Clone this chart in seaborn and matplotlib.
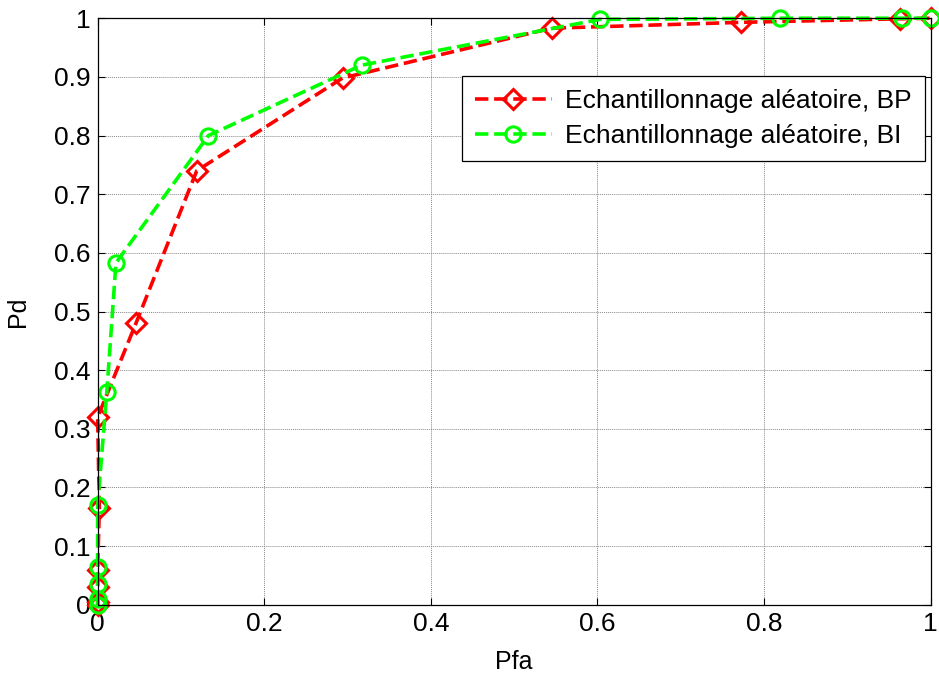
import matplotlib
matplotlib.use("Agg")
import matplotlib.pyplot as plt
import numpy as np
import pandas as pd
import seaborn as sns

# ROC points
PFA_BP = [0.0, 0.0, 0.0, 0.0, 0.002, 0.0, 0.046, 0.119, 0.294, 0.545, 0.773, 0.963, 1.0]
PD_BP = [0.0, 0.005, 0.03, 0.06, 0.165, 0.32, 0.48, 0.74, 0.898, 0.983, 0.993, 0.999, 1.0]
PFA_BI = [0.0, 0.0, 0.0, 0.0, 0.0, 0.011, 0.022, 0.133, 0.317, 0.603, 0.819, 0.966, 1.0]
PD_BI = [0.0, 0.01, 0.035, 0.065, 0.17, 0.363, 0.583, 0.80, 0.92, 0.998, 1.0, 1.0, 1.0]

LABEL_BP = "Echantillonnage aléatoire, BP"
LABEL_BI = "Echantillonnage aléatoire, BI"
X_TICKS = [0, 0.2, 0.4, 0.6, 0.8, 1]
X_TICK_LABELS = ["0", "0.2", "0.4", "0.6", "0.8", "1"]
Y_TICKS = [0, 0.1, 0.2, 0.3, 0.4, 0.5, 0.6, 0.7, 0.8, 0.9, 1]
Y_TICK_LABELS = ["0", "0.1", "0.2", "0.3", "0.4", "0.5", "0.6", "0.7", "0.8", "0.9", "1"]

FS = 19


def main() -> None:
    sns.set_theme(style="white")
    plt.rcParams["font.family"] = ["Liberation Sans", "DejaVu Sans"]
    plt.rcParams["axes.labelcolor"] = "black"
    plt.rcParams["text.color"] = "black"

    bp = pd.DataFrame({"Pfa": PFA_BP, "Pd": PD_BP})
    bi = pd.DataFrame({"Pfa": PFA_BI, "Pd": PD_BI})

    fig = plt.figure(figsize=(9.39, 6.75), dpi=100)
    ax = fig.add_axes([0.104, 0.104, 0.887, 0.869])

    sns.lineplot(
        data=bp, x="Pfa", y="Pd", sort=False, estimator=None, ax=ax,
        color="#ff0000", linestyle="--", linewidth=2.6, marker="D",
        markersize=10, markerfacecolor="none", markeredgecolor="#ff0000",
        markeredgewidth=2.2, label=LABEL_BP, clip_on=False,
    )
    sns.lineplot(
        data=bi, x="Pfa", y="Pd", sort=False, estimator=None, ax=ax,
        color="#00ff00", linestyle="--", linewidth=2.6, marker="o",
        markersize=11, markerfacecolor="none", markeredgecolor="#00ff00",
        markeredgewidth=2.2, label=LABEL_BI, clip_on=False,
    )

    ax.set_xlim(0, 1)
    ax.set_ylim(0, 1)
    ax.set_xticks(X_TICKS)
    ax.set_xticklabels(X_TICK_LABELS)
    ax.set_yticks(Y_TICKS)
    ax.set_yticklabels(Y_TICK_LABELS)
    ax.tick_params(direction="in", length=5, width=0.8, labelsize=FS, colors="black",
                   top=True, right=True, bottom=True, left=True, pad=5)
    ax.grid(True, color="#8a8a8a", linestyle=(0, (1, 1)), linewidth=0.7)
    for spine in ax.spines.values():
        spine.set_color("black")
        spine.set_linewidth(0.9)
    ax.set_xlabel("Pfa", fontsize=FS - 1, labelpad=10, color="black")
    ax.set_ylabel("Pd", fontsize=FS - 1, labelpad=17, color="black")

    leg = ax.legend(
        loc="upper right", bbox_to_anchor=(0.993, 0.901), borderaxespad=0,
        fontsize=FS, frameon=True, fancybox=False, edgecolor="black",
        framealpha=1, handlelength=2.9, handletextpad=0.5, borderpad=0.5,
        labelspacing=0.4,
    )
    leg.get_frame().set_linewidth(0.9)

    fig.savefig("out.png", dpi=100)
    plt.close(fig)


if __name__ == "__main__":
    main()
